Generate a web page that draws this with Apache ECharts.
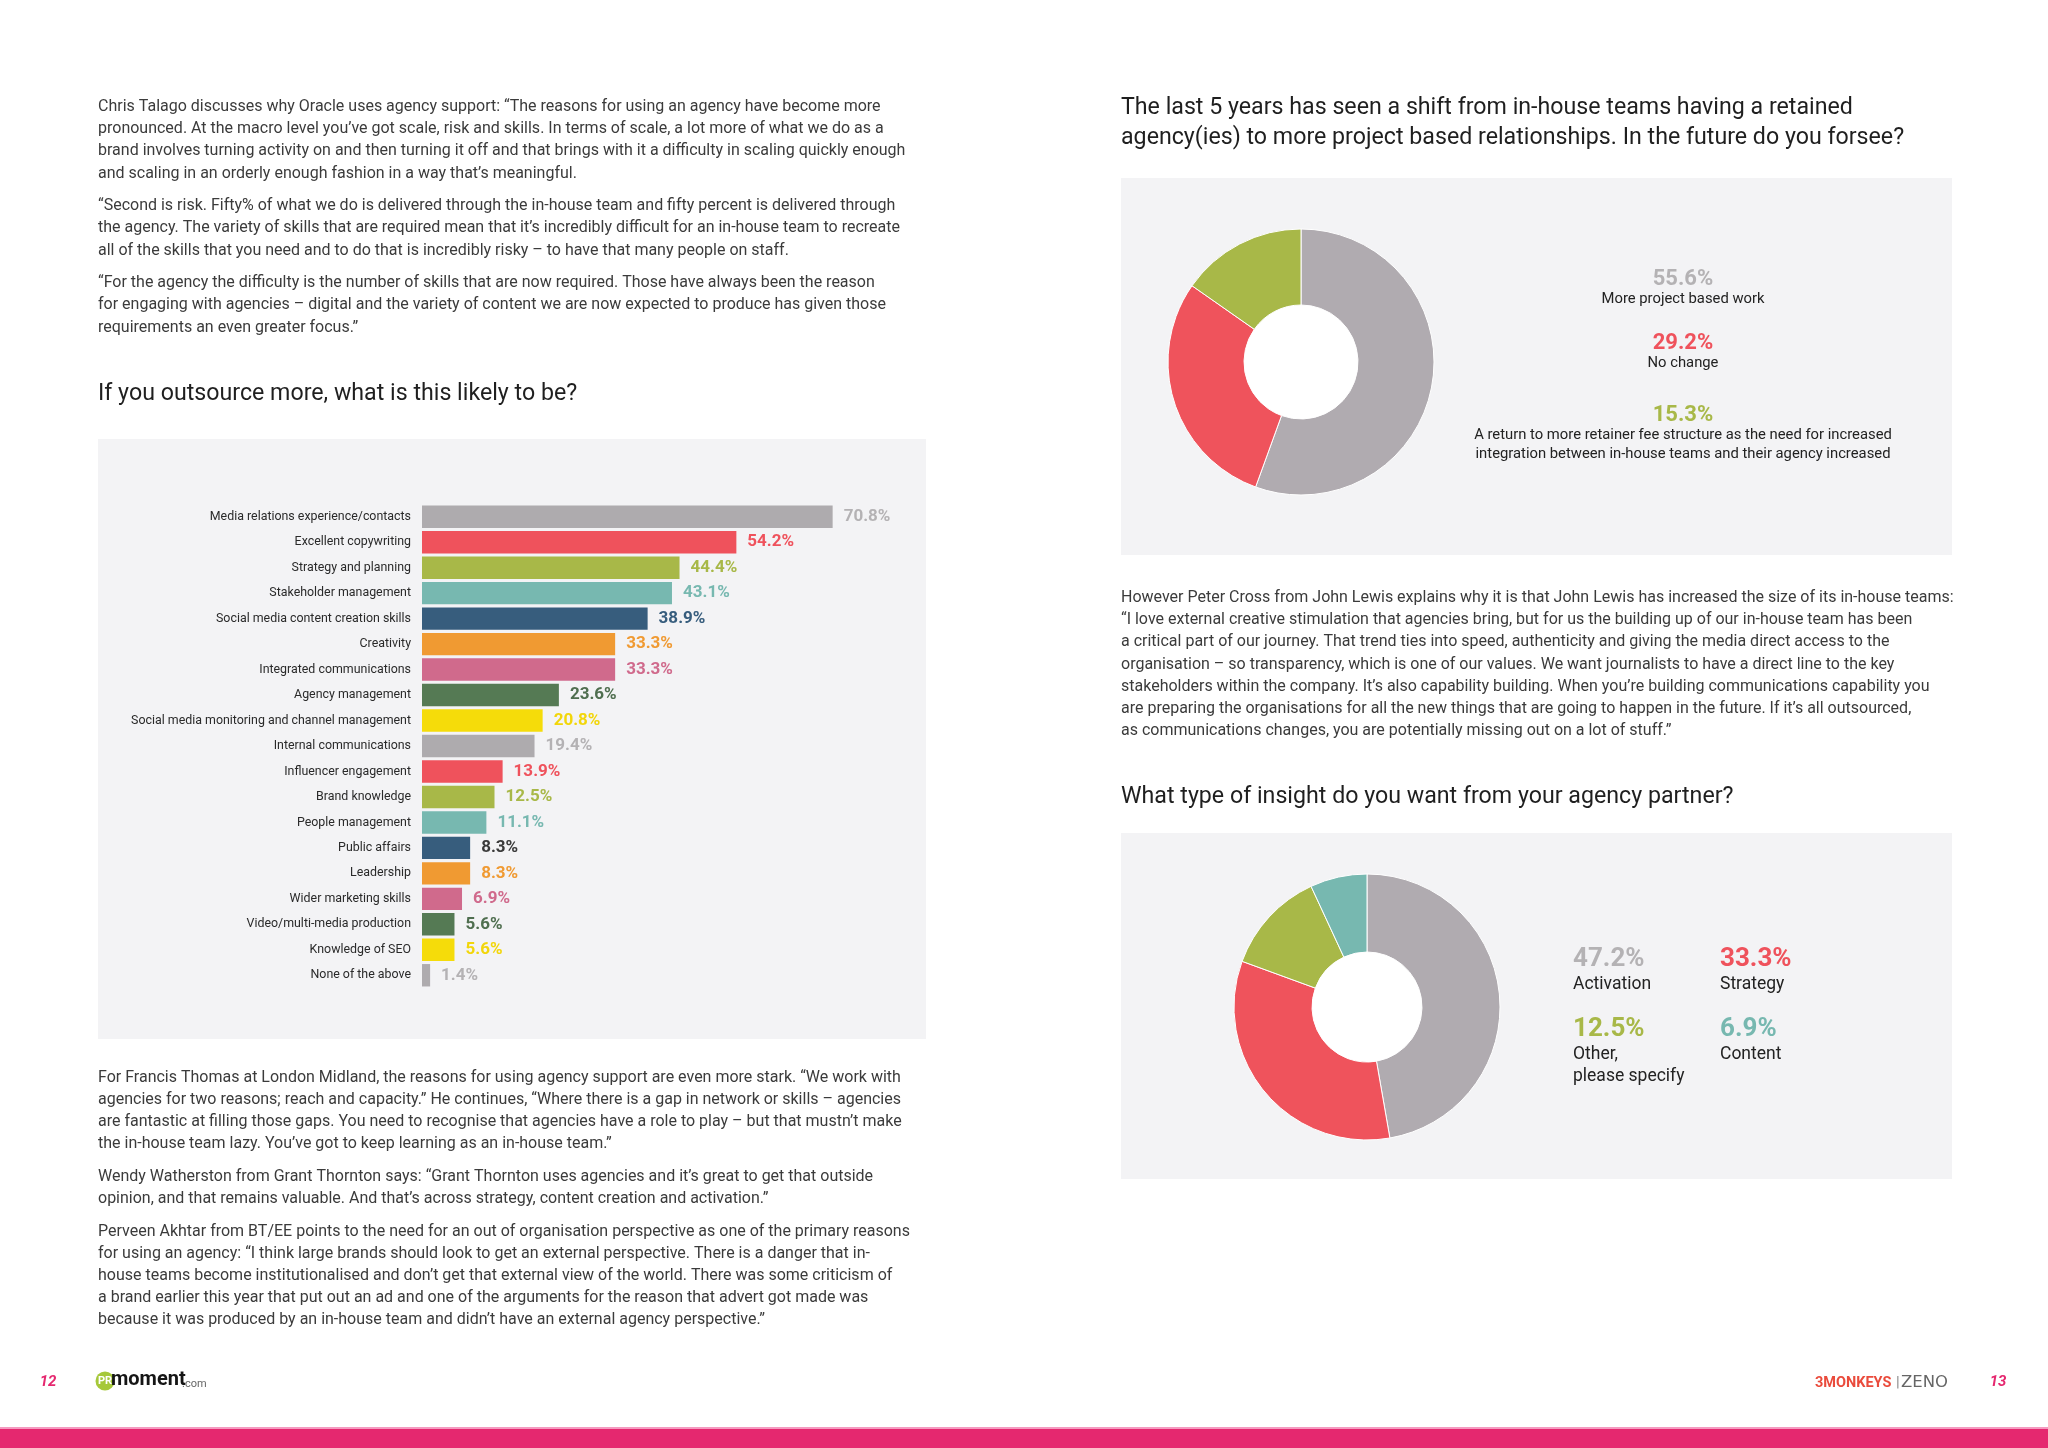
<!DOCTYPE html>
<html>
<head>
<meta charset="utf-8">
<title>Agency survey</title>
<script src="https://cdn.jsdelivr.net/npm/echarts@6/dist/echarts.min.js"></script>
<style>
html,body{margin:0;padding:0;background:#fff;}
#page{width:2048px;height:1448px;}
</style>
</head>
<body>
<div id="page"></div>
<script>
// ---------- DATA ----------
const barCategories = [
  'Media relations experience/contacts',
  'Excellent copywriting',
  'Strategy and planning',
  'Stakeholder management',
  'Social media content creation skills',
  'Creativity',
  'Integrated communications',
  'Agency management',
  'Social media monitoring and channel management',
  'Internal communications',
  'Influencer engagement',
  'Brand knowledge',
  'People management',
  'Public affairs',
  'Leadership',
  'Wider marketing skills',
  'Video/multi-media production',
  'Knowledge of SEO',
  'None of the above'
];
const barValues = [70.8, 54.2, 44.4, 43.1, 38.9, 33.3, 33.3, 23.6, 20.8, 19.4, 13.9, 12.5, 11.1, 8.3, 8.3, 6.9, 5.6, 5.6, 1.4];

const pie1Names = [
  'More project based work',
  'No change',
  'A return to more retainer fee structure as the need for increased\nintegration between in-house teams and their agency increased'
];
const pie1Values = [55.6, 29.2, 15.3];

const pie2Names = ['Activation', 'Strategy', 'Other,\nplease specify', 'Content'];
const pie2Values = [47.2, 33.3, 12.5, 6.9];

const headingBar = 'If you outsource more, what is this likely to be?';
const headingPie1 = [
  'The last 5 years has seen a shift from in-house teams having a retained',
  'agency(ies) to more project based relationships. In the future do you forsee?'
];
const headingPie2 = 'What type of insight do you want from your agency partner?';

const textTopLeft = [
  [
    'Chris Talago discusses why Oracle uses agency support: \u201CThe reasons for using an agency have become more',
    'pronounced. At the macro level you\u2019ve got scale, risk and skills. In terms of scale, a lot more of what we do as a',
    'brand involves turning activity on and then turning it off and that brings with it a difficulty in scaling quickly enough',
    'and scaling in an orderly enough fashion in a way that\u2019s meaningful.'
  ],
  [
    '\u201CSecond is risk. Fifty% of what we do is delivered through the in-house team and fifty percent is delivered through',
    'the agency. The variety of skills that are required mean that it\u2019s incredibly difficult for an in-house team to recreate',
    'all of the skills that you need and to do that is incredibly risky \u2013 to have that many people on staff.'
  ],
  [
    '\u201CFor the agency the difficulty is the number of skills that are now required. Those have always been the reason',
    'for engaging with agencies \u2013 digital and the variety of content we are now expected to produce has given those',
    'requirements an even greater focus.\u201D'
  ]
];
const textBottomLeft = [
  [
    'For Francis Thomas at London Midland, the reasons for using agency support are even more stark. \u201CWe work with',
    'agencies for two reasons; reach and capacity.\u201D He continues, \u201CWhere there is a gap in network or skills \u2013 agencies',
    'are fantastic at filling those gaps. You need to recognise that agencies have a role to play \u2013 but that mustn\u2019t make',
    'the in-house team lazy. You\u2019ve got to keep learning as an in-house team.\u201D'
  ],
  [
    'Wendy Watherston from Grant Thornton says: \u201CGrant Thornton uses agencies and it\u2019s great to get that outside',
    'opinion, and that remains valuable. And that\u2019s across strategy, content creation and activation.\u201D'
  ],
  [
    'Perveen Akhtar from BT/EE points to the need for an out of organisation perspective as one of the primary reasons',
    'for using an agency: \u201CI think large brands should look to get an external perspective. There is a danger that in-',
    'house teams become institutionalised and don\u2019t get that external view of the world. There was some criticism of',
    'a brand earlier this year that put out an ad and one of the arguments for the reason that advert got made was',
    'because it was produced by an in-house team and didn\u2019t have an external agency perspective.\u201D'
  ]
];
const textRight = [
  [
    'However Peter Cross from John Lewis explains why it is that John Lewis has increased the size of its in-house teams:',
    '\u201CI love external creative stimulation that agencies bring, but for us the building up of our in-house team has been',
    'a critical part of our journey. That trend ties into speed, authenticity and giving the media direct access to the',
    'organisation \u2013 so transparency, which is one of our values. We want journalists to have a direct line to the key',
    'stakeholders within the company. It\u2019s also capability building. When you\u2019re building communications capability you',
    'are preparing the organisations for all the new things that are going to happen in the future. If it\u2019s all outsourced,',
    'as communications changes, you are potentially missing out on a lot of stuff.\u201D'
  ]
];
const pageNumbers = ['12', '13'];

// ---------- STYLE ----------
const FONT = 'Roboto, "Open Sans", "DejaVu Sans", sans-serif';
const TEXT_COLOR = '#3b3b3b';
const HEAD_COLOR = '#1f1f1f';
const PINK = '#e5286f';
const BOX = '#f3f3f5';
const barPalette = ['#aeabae', '#ef525c', '#a8b848', '#77b8b0', '#375d7d', '#f09a32', '#d06a8c', '#557a54', '#f5dc0a'];
const barLabelPalette = ['#b4b2b4', '#ef525c', '#a8b848', '#77b8b0', '#375d7d', '#f09a32', '#d06a8c', '#4f6e4f', '#f2d60a'];
const pieColors = ['#b0abb0', '#ef535c', '#a8b848', '#77b8b0'];
const pieLabelColors = ['#b4b2b4', '#ef525c', '#a8b848', '#77b8b0'];

function fmt(v) { return v.toFixed(1) + '%'; }

// ---------- GRAPHIC HELPERS ----------
const elements = [];
function txt(x, y, s, opt) {
  opt = opt || {};
  elements.push({
    type: 'text', x: x, y: y, silent: true,
    z: opt.z || 10,
    style: {
      text: s,
      fill: opt.fill || TEXT_COLOR,
      fontSize: opt.size || 16,
      fontFamily: opt.family || FONT,
      fontWeight: opt.weight || 'normal',
      fontStyle: opt.style || 'normal',
      align: opt.align || 'left',
      verticalAlign: 'middle'
    }
  });
}
function rect(x, y, w, h, fill, z) {
  elements.push({ type: 'rect', silent: true, z: z || 0, shape: { x: x, y: y, width: w, height: h }, style: { fill: fill } });
}
function circle(cx, cy, r, fill, z) {
  elements.push({ type: 'circle', silent: true, z: z || 1, shape: { cx: cx, cy: cy, r: r }, style: { fill: fill } });
}
function paragraphs(paras, x, y0, lh, gap, size) {
  let y = y0;
  paras.forEach(function (p) {
    p.forEach(function (line) { txt(x, y, line, { size: size }); y += lh; });
    y += gap;
  });
}

// background boxes
rect(98, 439, 828, 600, BOX, 0);
rect(1121, 178, 831, 377, BOX, 0);
rect(1121, 833, 831, 346, BOX, 0);
// white donut holes
circle(1301, 362, 57, '#ffffff', 1);
circle(1367, 1007, 55, '#ffffff', 1);

// paragraph text
paragraphs(textTopLeft, 98, 107, 22.2, 10.4, 16);
paragraphs(textBottomLeft, 98, 1077.5, 22.2, 10.4, 16);
paragraphs(textRight, 1121, 598, 22.2, 10.4, 16);

// headings
const HS = 23.2;
txt(98, 394.5, headingBar, { size: HS, fill: HEAD_COLOR });
txt(1121, 108.5, headingPie1[0], { size: HS, fill: HEAD_COLOR });
txt(1121, 138.5, headingPie1[1], { size: HS, fill: HEAD_COLOR });
txt(1121, 797.5, headingPie2, { size: HS, fill: HEAD_COLOR });

// pie 1 legend (stacked, centred)
const p1ValueY = [279.5, 343.5, 415.5];
pie1Names.forEach(function (n, i) {
  txt(1683, p1ValueY[i], fmt(pie1Values[i]), { size: 22, weight: 'bold', fill: pieLabelColors[i], align: 'center' });
  n.split('\n').forEach(function (l, j) {
    txt(1683, p1ValueY[i] + 20 + j * 18.5, l, { size: 14.8, fill: '#222', align: 'center' });
  });
});

// pie 2 legend (2x2)
const p2X = [1573, 1720, 1573, 1720];
const p2Y = [959.5, 959.5, 1029.5, 1029.5];
pie2Names.forEach(function (n, i) {
  txt(p2X[i], p2Y[i], fmt(pie2Values[i]), { size: 26, weight: 'bold', fill: pieLabelColors[i] });
  n.split('\n').forEach(function (l, j) {
    txt(p2X[i], p2Y[i] + 25 + j * 22, l, { size: 17.5, fill: '#222' });
  });
});

// footer
txt(48, 1382, pageNumbers[0], { size: 15, weight: 'bold', style: 'italic', fill: PINK, align: 'center' });
txt(1998, 1382, pageNumbers[1], { size: 15, weight: 'bold', style: 'italic', fill: PINK, align: 'center' });
circle(105, 1381, 9.5, '#a6c83a', 10);
txt(105, 1381, 'PR', { size: 11, weight: 'bold', fill: '#ffffff', align: 'center', z: 11 });
txt(111, 1380, 'moment', { size: 20, weight: 'bold', fill: '#151515' });
txt(182, 1384, '.com', { size: 11, fill: '#666' });
txt(1815, 1383, '3MONKEYS', { size: 14.5, weight: 'bold', fill: '#ea4b3c' });
txt(1896, 1383, '|', { size: 15, fill: '#888' });
txt(1901, 1383, 'ZENO', { size: 16.5, fill: '#666', family: '"DejaVu Sans", sans-serif' });
rect(0, 1427, 2048, 2, '#f59ac0', 5);
rect(0, 1429, 2048, 19, PINK, 5);

// ---------- CHART ----------
const chart = echarts.init(document.getElementById('page'), null, { renderer: 'canvas', width: 2048, height: 1448 });

const barData = barValues.map(function (v, i) {
  return {
    value: v,
    itemStyle: { color: barPalette[i % barPalette.length] },
    label: { color: i === 13 ? '#3a3a3a' : barLabelPalette[i % barLabelPalette.length] }
  };
});

const option = {
  backgroundColor: '#ffffff',
  animation: false,
  textStyle: { fontFamily: FONT },
  grid: { left: 422, top: 504, width: 580, height: 484, containLabel: false },
  xAxis: { type: 'value', min: 0, max: 100, show: false, splitLine: { show: false } },
  yAxis: {
    type: 'category', data: barCategories, inverse: true,
    axisLine: { show: false }, axisTick: { show: false }, splitLine: { show: false },
    axisLabel: { color: '#2a2a2a', fontSize: 12.4, margin: 11, fontFamily: FONT }
  },
  series: [
    {
      type: 'bar', data: barData, barCategoryGap: '12%', silent: true,
      label: {
        show: true, position: 'right', distance: 11,
        fontSize: 17, fontWeight: 'bold', fontFamily: FONT,
        formatter: function (p) { return fmt(p.value); }
      }
    },
    {
      type: 'pie', center: [1301, 362], radius: [57, 133], startAngle: 90, clockwise: true, z: 3,
      silent: true, label: { show: false }, labelLine: { show: false },
      itemStyle: { borderColor: '#ffffff', borderWidth: 1 },
      data: pie1Values.map(function (v, i) { return { value: v, name: pie1Names[i], itemStyle: { color: pieColors[i] } }; })
    },
    {
      type: 'pie', center: [1367, 1007], radius: [55, 133], startAngle: 90, clockwise: true, z: 3,
      silent: true, label: { show: false }, labelLine: { show: false },
      itemStyle: { borderColor: '#ffffff', borderWidth: 1 },
      data: pie2Values.map(function (v, i) { return { value: v, name: pie2Names[i], itemStyle: { color: pieColors[i] } }; })
    }
  ],
  graphic: { elements: elements }
};
chart.setOption(option);
</script>
</body>
</html>
